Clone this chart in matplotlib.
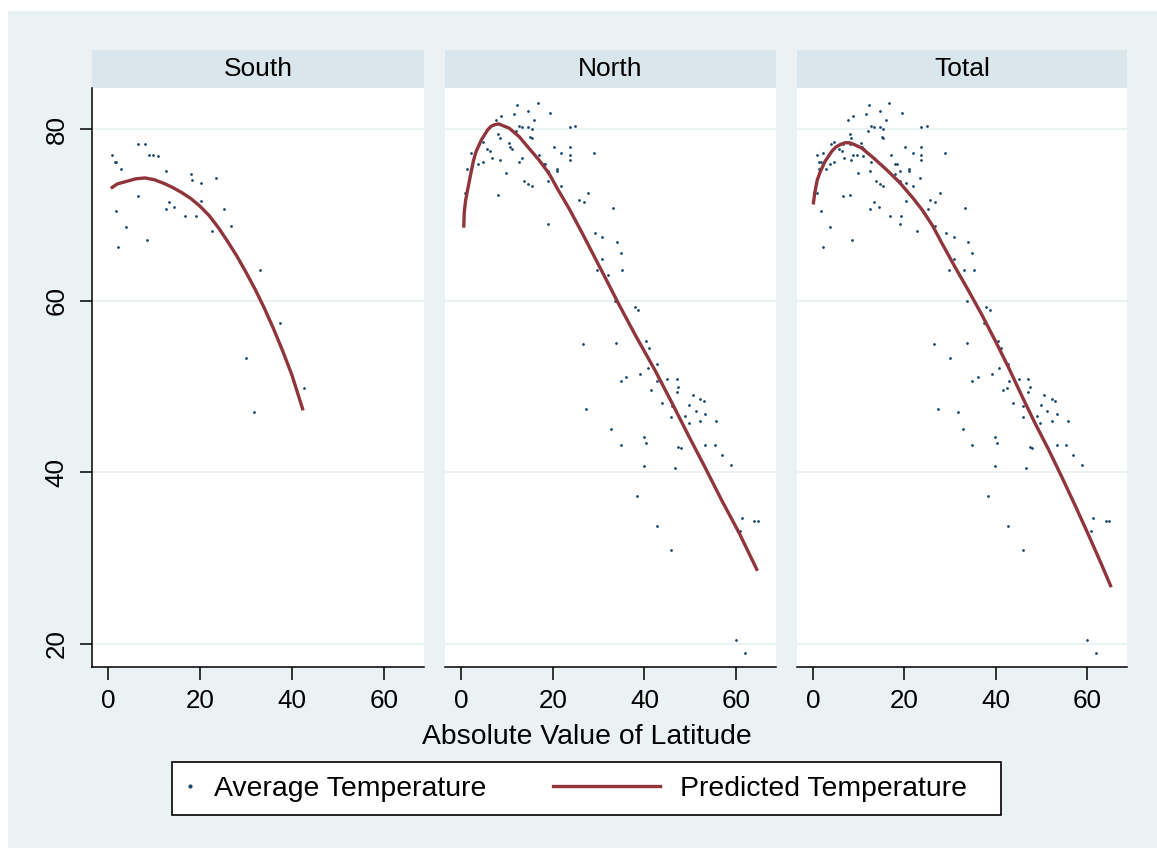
import matplotlib.pyplot as plt
from matplotlib.patches import Rectangle
from matplotlib.lines import Line2D

# colours (Stata s2color look)
BG = '#eaf2f3'
STRIP = '#d9e6eb'
NAVY = '#1a476f'
MAROON = '#90353b'

# ---- data ----
panels = ['South', 'North', 'Total']

south_lat = [0.9, 1.4, 1.7, 2.9, 6.5, 8.1, 8.8, 9.7, 10.9, 12.5, 18.0, 18.3, 20.3, 23.5,
             6.5, 1.7, 3.8, 2.1, 8.5, 13.3, 12.5, 14.4, 16.8, 19.2, 20.3, 25.1, 26.7, 22.7,
             33.0, 37.4, 29.9, 31.8, 42.5]
south_temp = [77.0, 76.1, 76.1, 75.4, 78.2, 78.2, 77.0, 77.0, 76.8, 75.1, 74.8, 74.1, 73.7, 74.3,
              72.2, 70.5, 68.6, 66.2, 67.1, 71.5, 70.7, 70.9, 69.9, 69.9, 71.6, 70.7, 68.7, 68.1,
              63.6, 57.4, 53.3, 47.0, 49.8]

north_lat = [12.3, 16.7, 14.7, 19.4, 11.5, 8.8, 7.6, 15.9, 12.7, 13.4, 14.7, 15.4, 12.0, 8.0,
             8.4, 15.1, 15.4, 4.7, 4.0, 10.4, 10.7, 11.1, 5.6, 6.4, 2.1, 6.8, 4.7, 3.7, 8.4,
             12.7, 13.4, 17.0, 1.3, 9.9, 18.0, 18.3, 19.0, 20.9, 21.0, 20.2, 21.8, 23.7, 24.9,
             23.7, 23.7, 23.7, 28.9, 13.8, 14.7, 15.4, 19.0, 21.8, 8.0, 0.85, 27.7, 25.7, 26.8,
             33.2, 19.0, 29.2, 30.8, 34.0, 34.8, 30.8, 29.7, 35.2, 32.0, 33.6, 37.9, 38.7,
             26.5, 33.7, 40.4, 41.1, 42.7, 40.7, 39.1, 36.0, 34.8, 42.8, 45.0, 47.0, 47.4, 47.0,
             41.5, 50.5, 52.2, 52.9, 49.8, 51.3, 53.3, 43.8, 46.0, 45.9, 48.9, 49.7, 52.2, 55.7,
             27.3, 32.8, 34.8, 39.9, 40.3, 47.4, 47.9, 53.3, 55.3, 56.9, 58.9, 39.9, 46.6, 38.3,
             42.7, 45.9, 61.2, 60.8, 64.0, 64.8, 60.0, 61.9]
north_temp = [82.8, 83.0, 82.1, 81.9, 81.7, 81.5, 81.0, 81.0, 80.4, 80.2, 80.2, 80.0, 79.8, 79.4,
              78.9, 79.1, 78.9, 78.5, 78.3, 78.4, 77.9, 77.7, 77.7, 77.4, 77.2, 76.6, 76.1, 75.9, 76.4,
              76.2, 76.6, 77.0, 75.3, 74.9, 75.9, 75.9, 75.1, 75.3, 75.1, 77.9, 77.2, 80.2, 80.4,
              77.9, 77.0, 76.4, 77.2, 74.0, 73.6, 73.4, 73.9, 73.4, 72.3, 72.5, 72.5, 71.7, 71.5,
              70.8, 68.9, 67.9, 67.4, 66.8, 65.5, 64.9, 63.6, 63.6, 63.0, 60.0, 59.3, 58.9,
              54.9, 55.1, 55.3, 54.5, 52.6, 52.1, 51.5, 51.1, 50.7, 50.7, 50.9, 50.9, 50.0, 49.4,
              49.6, 49.0, 48.5, 48.3, 47.9, 47.2, 46.8, 48.1, 47.7, 46.4, 46.6, 45.8, 46.0, 46.0,
              47.4, 45.1, 43.2, 44.1, 43.4, 43.0, 42.8, 43.2, 43.2, 42.0, 40.9, 40.7, 40.5, 37.3,
              33.8, 30.9, 34.7, 33.2, 34.3, 34.3, 20.5, 19.0]

total_lat = south_lat + north_lat
total_temp = south_temp + north_temp

# predicted (fitted) temperature curves
south_pred_lat = [0.9, 2, 4, 6, 8, 10, 12, 14, 16, 18, 20, 22, 24, 26, 28, 30, 32, 34, 36,
                  38, 40, 42.3]
south_pred_temp = [73.2, 73.6, 73.9, 74.2, 74.3, 74.1, 73.7, 73.2, 72.6, 71.9, 71.0, 69.9,
                   68.5, 66.9, 65.2, 63.3, 61.3, 59.1, 56.7, 54.1, 51.3, 47.4]

north_pred_lat = [0.6, 0.7, 1.0, 1.5, 2.2, 2.7, 3.3, 4.4, 5.8, 6.5, 7.3, 8.2, 9.1, 10.5, 11.6,
                  12.7, 14.9, 17.0, 19.2, 21.4, 23.5, 26.4, 29.3, 32.2, 34.4, 38.0, 42.3, 45.9,
                  49.5, 53.2, 56.8, 58.9, 60.7, 64.5]
north_pred_temp = [68.7, 70.3, 71.7, 73.1, 75.0, 76.3, 77.4, 78.7, 79.9, 80.3, 80.5, 80.6,
                   80.4, 80.1, 79.6, 79.1, 77.7, 76.4, 74.8, 72.7, 70.8, 67.9, 64.9, 61.9,
                   59.6, 56.0, 51.9, 48.2, 44.4, 40.6, 36.8, 34.7, 32.9, 28.7]

total_pred_lat = [0.1, 0.4, 0.9, 1.5, 2.6, 4.1, 5.0, 6.0, 7.0, 8.0, 9.0, 10.6, 13.1, 16.0,
                  18.9, 21.8, 24.0, 26.2, 28.3, 31.2, 34.1, 37.0, 39.9, 42.8, 45.7, 48.6,
                  51.5, 54.4, 57.3, 60.2, 63.1, 65.1]
total_pred_temp = [71.4, 72.6, 74.0, 74.9, 76.2, 77.4, 77.9, 78.2, 78.4, 78.4, 78.2, 77.8,
                   76.7, 75.3, 73.8, 72.0, 70.5, 68.7, 66.6, 63.8, 61.1, 58.3, 55.3, 52.2,
                   48.9, 45.7, 42.7, 39.5, 36.2, 32.8, 29.3, 26.8]

x_ticks = [0, 20, 40, 60]
y_ticks = [20, 40, 60, 80]

scatter_data = [(south_lat, south_temp), (north_lat, north_temp), (total_lat, total_temp)]
pred_data = [(south_pred_lat, south_pred_temp), (north_pred_lat, north_pred_temp),
             (total_pred_lat, total_pred_temp)]

plt.rcParams['font.family'] = ['Liberation Sans', 'DejaVu Sans']

W, H = 1157, 848
fig = plt.figure(figsize=(W / 100, H / 100), dpi=100)
fig.patch.set_facecolor('white')
fig.patches.append(Rectangle((8 / W, 0), 1, 1 - 11 / H, transform=fig.transFigure,
                             facecolor=BG, edgecolor='none', zorder=-10))

lefts = [92, 445, 797]
widths = [332, 331, 330]
top_px, bot_px = 88, 667
ax_h = bot_px - top_px
strip_h = 38

for i, name in enumerate(panels):
    ax = fig.add_axes([lefts[i] / W, 1 - bot_px / H, widths[i] / W, ax_h / H])
    ax.set_facecolor('white')
    lat, temp = scatter_data[i]
    ax.scatter(lat, temp, s=4, color=NAVY, linewidths=0, zorder=3)
    plat, ptemp = pred_data[i]
    ax.plot(plat, ptemp, color=MAROON, lw=2.4, zorder=4, solid_joinstyle='round')

    ax.set_xlim(-3.5, 68.7)
    ax.set_ylim(17.32, 84.78)
    ax.set_xticks(x_ticks)
    ax.set_yticks(y_ticks)
    ax.yaxis.grid(True, color=BG, lw=1.4)
    ax.set_axisbelow(True)

    for s in ['top', 'right']:
        ax.spines[s].set_visible(False)
    ax.spines['bottom'].set_linewidth(1.1)
    ax.tick_params(axis='x', length=9, width=1.1, pad=7, labelsize=18.7)
    if i == 0:
        ax.spines['left'].set_linewidth(1.1)
        ax.tick_params(axis='y', length=9, width=1.1, pad=8, labelsize=18.7, labelrotation=90)
        for lab in ax.get_yticklabels():
            lab.set_va('center')
    else:
        ax.spines['left'].set_visible(False)
        ax.tick_params(axis='y', left=False, labelleft=False)

    # panel header strip
    ax.add_patch(Rectangle((0, 1), 1, strip_h / ax_h, transform=ax.transAxes, clip_on=False,
                           facecolor=STRIP, edgecolor='none'))
    ax.text(0.5, 1 + strip_h / 2 / ax_h, name, transform=ax.transAxes, ha='center',
            va='center', fontsize=19)

fig.text(586.5 / W, 1 - 737 / H, 'Absolute Value of Latitude', ha='center', va='center',
         fontsize=20.4)

# legend box
fig.patches.append(Rectangle((172 / W, 1 - 815 / H), (1001 - 172) / W, 53 / H,
                             transform=fig.transFigure, facecolor='white', edgecolor='black',
                             lw=1.2, zorder=1))
h1 = Line2D([], [], linestyle='none', marker='o', markersize=2, color=NAVY)
h2 = Line2D([], [], color=MAROON, lw=2.4)
leg_y = 1 - 788.5 / H
fig.legend([h1], ['Average Temperature'], loc='center left', bbox_to_anchor=(176 / W, leg_y),
           frameon=False, fontsize=20.4, handlelength=1.0, handletextpad=0.35, borderpad=0,
           borderaxespad=0)
fig.legend([h2], ['Predicted Temperature'], loc='center left', bbox_to_anchor=(553 / W, leg_y),
           frameon=False, fontsize=20.4, handlelength=3.77, handletextpad=0.7, borderpad=0,
           borderaxespad=0)

fig.savefig('out.png', dpi=100)
